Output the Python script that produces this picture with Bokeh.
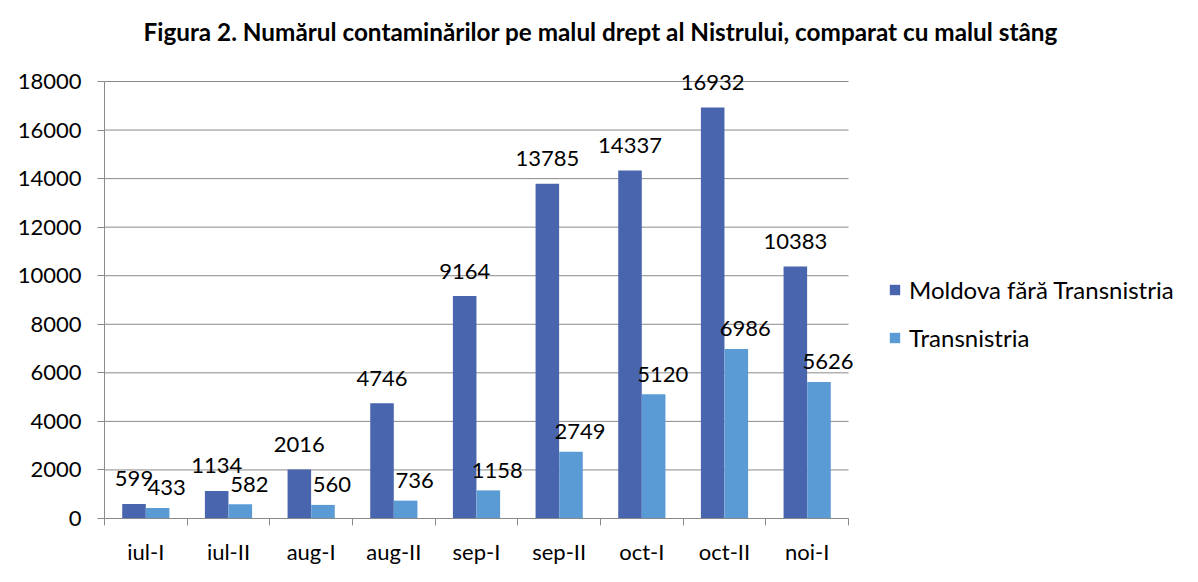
from bokeh.plotting import figure
from bokeh.models import (ColumnDataSource, FixedTicker, LabelSet, Legend,
                          LegendItem, Range1d, Title)
from bokeh.core.properties import value
from bokeh.embed import file_html
from bokeh.resources import INLINE

categories = ["iul-I", "iul-II", "aug-I", "aug-II", "sep-I", "sep-II", "oct-I", "oct-II", "noi-I"]
moldova = [599, 1134, 2016, 4746, 9164, 13785, 14337, 16932, 10383]
transnistria = [433, 582, 560, 736, 1158, 2749, 5120, 6986, 5626]
series_names = ["Moldova fără Transnistria", "Transnistria"]
y_ticks = [0, 2000, 4000, 6000, 8000, 10000, 12000, 14000, 16000, 18000]
title_text = "Figura 2. Numărul contaminărilor pe malul drept al Nistrului, comparat cu malul stâng"

DARK = "#4865AD"
LIGHT = "#5B9BD5"
GRID = "#8A8A8A"
FONT = "Lato"
FS = "22px"

BAR_W = 0.285
OFF = 0.143

# layout: axes area 744 x 437 px; frame a little larger so labels are not clipped
AX_W, AX_H = 744, 437
FRAME_W, FRAME_H = 769, 458
n = len(categories)
y_max = y_ticks[-1]
x_end = n * FRAME_W / AX_W
y_end = y_max * FRAME_H / AX_H

centers = [i + 0.5 for i in range(n)]
src = ColumnDataSource(data=dict(
    xd=[c - OFF for c in centers],
    xl=[c + OFF for c in centers],
    moldova=moldova,
    transnistria=transnistria,
    ml=[str(v) for v in moldova],
    tl=[str(v) for v in transnistria],
))

p = figure(frame_width=FRAME_W, frame_height=FRAME_H, output_backend="svg", toolbar_location=None,
           x_range=Range1d(0, x_end), y_range=Range1d(0, y_end),
           min_border_left=104, min_border_right=0, min_border_top=0,
           min_border_bottom=64)
p.outline_line_color = None
p.background_fill_color = "white"
p.border_fill_color = "white"

# horizontal gridlines limited to the category area
p.xgrid.visible = False
p.ygrid.visible = False
p.segment(x0=[0] * len(y_ticks), x1=[n] * len(y_ticks), y0=y_ticks, y1=y_ticks,
          line_color=GRID, line_width=1, level="underlay")

r1 = p.vbar(x="xd", top="moldova", width=BAR_W, source=src, fill_color=DARK, line_color=None)
r2 = p.vbar(x="xl", top="transnistria", width=BAR_W, source=src, fill_color=LIGHT, line_color=None)

# data labels
p.add_layout(LabelSet(x="xd", y="moldova", text="ml", source=src, text_align="center",
                      text_baseline="middle", y_offset=25, text_font=value(FONT),
                      text_font_size=value(FS), text_color="black"))
p.add_layout(LabelSet(x="xl", y="transnistria", text="tl", source=src, text_align="center",
                      text_baseline="middle", y_offset=20, x_offset=9, text_font=value(FONT),
                      text_font_size=value(FS), text_color="black"))

# y axis
p.yaxis.ticker = FixedTicker(ticks=y_ticks)
p.yaxis.bounds = (0, y_max)
p.yaxis.axis_line_color = GRID
p.yaxis.major_tick_line_color = GRID
p.yaxis.major_tick_out = 7
p.yaxis.major_tick_in = 0
p.yaxis.minor_tick_line_color = None
p.yaxis.major_label_text_font = FONT
p.yaxis.major_label_text_font_size = FS
p.yaxis.major_label_text_color = "black"
p.yaxis.major_label_standoff = 16

# x axis: labels at category centres, tick marks at category boundaries
p.xaxis.ticker = FixedTicker(ticks=centers, minor_ticks=list(range(n + 1)))
p.xaxis.bounds = (0, n)
p.xaxis.major_label_overrides = {c: cat for c, cat in zip(centers, categories)}
p.xaxis.axis_line_color = GRID
p.xaxis.major_tick_line_color = None
p.xaxis.major_tick_out = 0
p.xaxis.major_tick_in = 0
p.xaxis.minor_tick_line_color = GRID
p.xaxis.minor_tick_out = 7
p.xaxis.minor_tick_in = 0
p.xaxis.major_label_text_font = FONT
p.xaxis.major_label_text_font_size = FS
p.xaxis.major_label_text_color = "black"
p.xaxis.major_label_standoff = 12

# title
p.add_layout(Title(text=title_text, align="left", offset=39, standoff=29,
                   text_font=FONT, text_font_size="24.3px", text_font_style="bold",
                   text_color="black"), "above")

# legend
legend = Legend(items=[LegendItem(label=series_names[0], renderers=[r1]),
                       LegendItem(label=series_names[1], renderers=[r2])],
                location=(15, 166), orientation="vertical")
legend.border_line_color = None
legend.background_fill_alpha = 0
legend.padding = 0
legend.margin = 0
legend.glyph_width = 13
legend.glyph_height = 13
legend.label_height = 24
legend.spacing = 19
legend.label_standoff = 8
legend.label_text_font = FONT
legend.label_text_font_size = "24px"
legend.label_text_color = "black"
p.add_layout(legend, "right")

open("out.html", "w").write(file_html(p, INLINE))
